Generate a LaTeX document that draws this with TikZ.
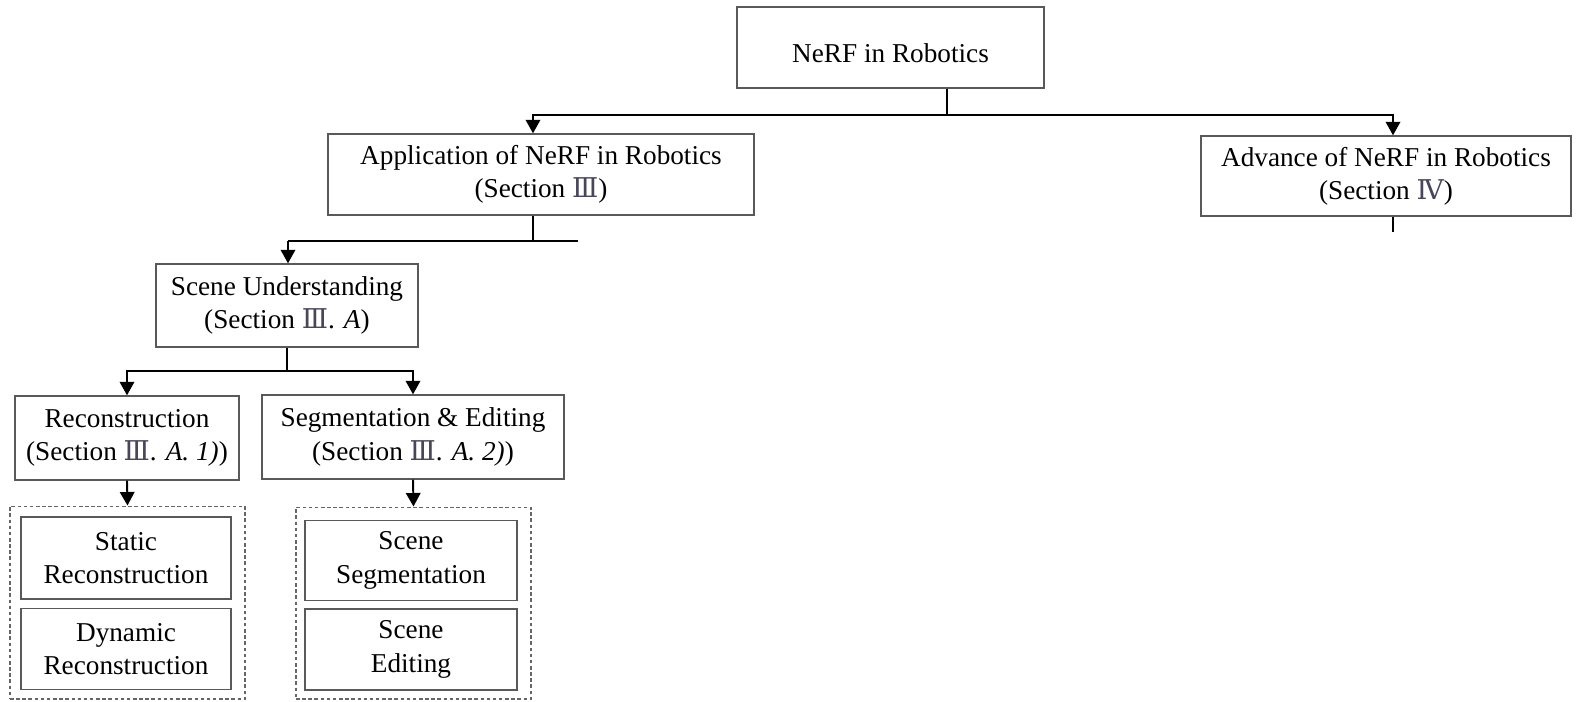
\documentclass[tikz,border=0pt]{standalone}
\usepackage{fontspec}
\setmainfont{Liberation Serif}
\newfontfamily\numfont{DejaVu Serif}
\usetikzlibrary{positioning,arrows.meta}

\definecolor{numcol}{RGB}{72,70,88}
% roman section numbers
\newcommand{\secnum}[1]{{\numfont\color{numcol}#1}}

\begin{document}
\begin{tikzpicture}[x=0.02cm,y=-0.02cm,
    box/.style={draw=black!65,line width=0.8pt,align=center,inner sep=0pt,
      font=\fontsize{15.5}{19}\selectfont},
    group/.style={draw=black!60,dash pattern=on 2pt off 1.5pt,line width=0.6pt,inner sep=0pt},
    link/.style={line width=1.1pt},
    arr/.style={link,-{Triangle[length=0.27cm,width=0.29cm]}}]
  \useasboundingbox (0,0) rectangle (1579,701);

  \node[box,minimum width=6.14cm,minimum height=1.62cm,text height=20pt,text depth=3pt] (root) at (890.5,47.5) {NeRF in Robotics};
  \node[box,minimum width=8.52cm,minimum height=1.62cm] (app) at (541,174.5)
    {Application of NeRF in Robotics\\(Section \secnum{Ⅲ})};
  \node[box,minimum width=7.40cm,minimum height=1.60cm] (adv) at (1386,176)
    {Advance of NeRF in Robotics\\(Section \secnum{Ⅳ})};
  \node[box,minimum width=5.24cm,minimum height=1.66cm] (scene) at (287,305.5)
    {Scene Understanding\\(Section \secnum{Ⅲ}. \textit{A})};
  \node[box,minimum width=4.48cm,minimum height=1.68cm] (recon) at (127,438)
    {Reconstruction\\(Section \secnum{Ⅲ}. \textit{A. 1)})};
  \node[box,minimum width=6.04cm,minimum height=1.68cm] (seg) at (413,437)
    {Segmentation \& Editing\\(Section \secnum{Ⅲ}. \textit{A. 2)})};

  % dashed groups
  \node[group,minimum width=4.70cm,minimum height=3.86cm] (grp1) at (127.5,602.5) {};
  \node[group,minimum width=4.70cm,minimum height=3.84cm] (grp2) at (413.5,603) {};

  \node[box,minimum width=4.20cm,minimum height=1.64cm] (static) at (126,558) {Static\\Reconstruction};
  \node[box,minimum width=4.20cm,minimum height=1.62cm,below=0.16cm of static] (dynamic) {Dynamic\\Reconstruction};
  \node[box,minimum width=4.24cm,minimum height=1.60cm] (sseg) at (411,560.5) {Scene\\Segmentation};
  \node[box,minimum width=4.24cm,minimum height=1.62cm,below=0.14cm of sseg] (sedit) {Scene\\Editing};

  \coordinate (j0) at (947,115);
  \coordinate (a1) at (533,115);
  \coordinate (a2) at (1393,115);
  \coordinate (j1) at (533,241);
  \coordinate (b1) at (288,241);
  \coordinate (b2) at (578,241);
  \coordinate (s4) at (1393,232);
  \coordinate (j2) at (287,371);

  %root>app,adv
  \draw[link] (root.south -| j0) -- (j0);
  \draw[arr] (j0) -- (a1) -- (a1 |- app.north);
  \draw[arr] (j0) -- (a2) -- (a2 |- adv.north);
  %app>scene
  \draw[link] (app.south -| j1) -- (j1);
  \draw[link] (b1) -- (b2);
  \draw[arr] (b1) -- (b1 |- scene.north);
  \draw[link] (adv.south -| s4) -- (s4);
  %scene>recon,seg
  \draw[link] (scene.south) -- (j2);
  \draw[arr] (j2) -| (recon.north);
  \draw[arr] (j2) -| (seg.north);
  \draw[arr] (recon.south) -- (grp1.north);
  \draw[arr] (seg.south) -- (grp2.north);
\end{tikzpicture}
\end{document}
